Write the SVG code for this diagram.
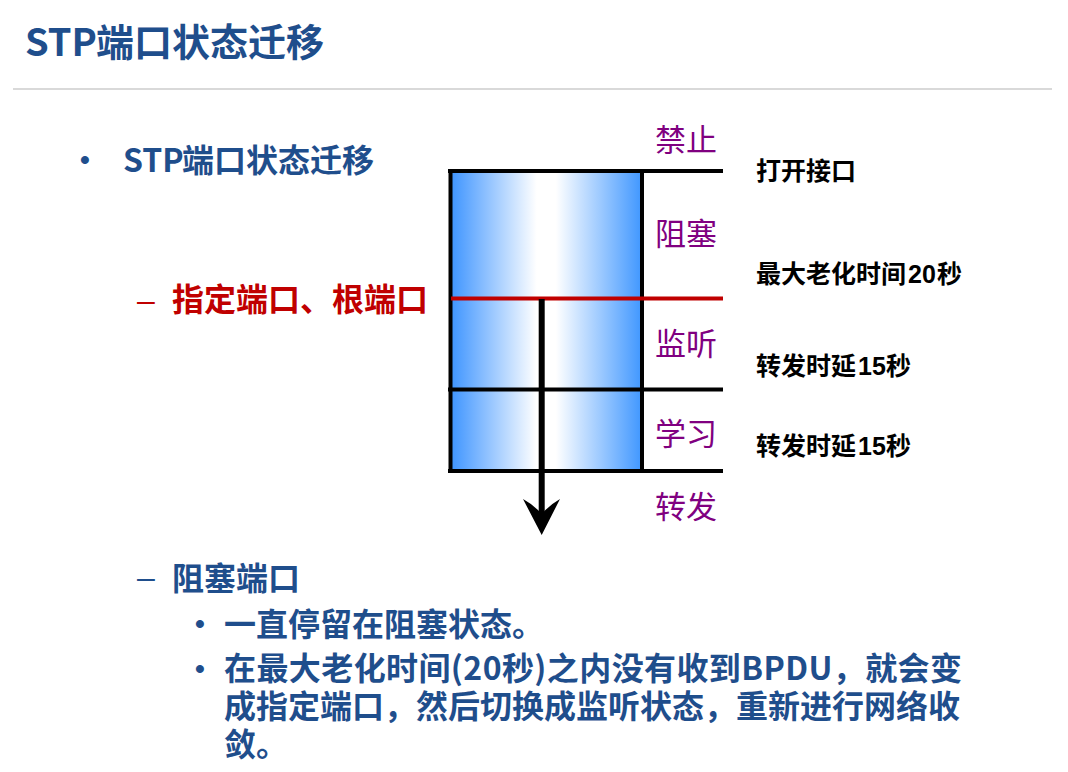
<svg xmlns="http://www.w3.org/2000/svg" width="1068" height="772" viewBox="0 0 1068 772">
  <defs>
    <linearGradient id="boxGrad" x1="0" y1="0" x2="1" y2="0">
      <stop offset="0" stop-color="#3d94ff"/>
      <stop offset="0.45" stop-color="#ffffff"/>
      <stop offset="0.55" stop-color="#ffffff"/>
      <stop offset="1" stop-color="#4097ff"/>
    </linearGradient>
    <style>
      .cjk { font-family: "Noto Sans CJK SC", "Liberation Sans", sans-serif; }
      .blue { fill: #1f4e8c; font-weight: bold; }
      .red { fill: #c00000; font-weight: bold; }
      .state { fill: #800080; font-size: 31px; font-weight: normal; }
      .note { fill: #000000; font-size: 25px; font-weight: bold; }
      .num { font-family: "Liberation Sans", "Noto Sans CJK SC", sans-serif; font-size: 25px; font-weight: bold; }
      .mark { font-family: "Liberation Sans", sans-serif; }
      .bk { stroke: #000000; stroke-width: 4; fill: none; }
    </style>
  </defs>
  <rect width="1068" height="772" fill="#ffffff"/>

  <g id="title">
    <text class="cjk blue" font-size="38" y="56"><tspan x="25">STP</tspan><tspan x="96">端口状态迁移</tspan></text>
    <line x1="13" y1="89" x2="1052" y2="89" stroke="#d9d9d9" stroke-width="2"/>
  </g>

  <g id="bullet-main">
    <text class="mark blue" font-size="28" x="80" y="169">•</text>
    <text class="cjk blue" font-size="32" y="172"><tspan x="123">STP</tspan><tspan x="182">端口状态迁移</tspan></text>
  </g>

  <g id="sub-designated">
    <text class="mark" font-size="32" fill="#c00000" x="137" y="311">–</text>
    <text class="cjk red" font-size="32" x="172" y="311">指定端口、根端口</text>
  </g>

  <g id="state-box">
    <rect x="450.5" y="171" width="191.5" height="300" fill="url(#boxGrad)"/>
    <line class="bk" x1="448" y1="171" x2="723" y2="171"/>
    <line class="bk" x1="448" y1="389.5" x2="723" y2="389.5"/>
    <line class="bk" x1="448" y1="471" x2="723" y2="471"/>
    <line class="bk" x1="450.5" y1="169" x2="450.5" y2="473" stroke-width="4.5"/>
    <line class="bk" x1="642" y1="169" x2="642" y2="473"/>
    <line x1="451" y1="298.5" x2="723" y2="298.5" stroke="#c00000" stroke-width="4"/>
  </g>

  <g id="connectors">
    <line x1="541.7" y1="299" x2="541.7" y2="516" stroke="#000000" stroke-width="6"/>
    <path d="M523,499 Q534,505 541.7,514 Q549.5,505 560,499 L541.7,535 Z" fill="#000000"/>
  </g>

  <g id="state-labels" class="cjk state">
    <text id="s-disabled" x="655" y="151">禁止</text>
    <text id="s-blocking" x="655" y="245">阻塞</text>
    <text id="s-listening" x="655" y="355">监听</text>
    <text id="s-learning" x="655" y="445">学习</text>
    <text id="s-forwarding" x="655" y="518">转发</text>
  </g>

  <g id="transition-notes" class="cjk note">
    <text x="756" y="180">打开接口</text>
    <text y="283"><tspan x="756">最大老化时间</tspan><tspan class="num" x="908">20</tspan><tspan x="937">秒</tspan></text>
    <text y="375"><tspan x="756">转发时延</tspan><tspan class="num" x="858">15</tspan><tspan x="886">秒</tspan></text>
    <text y="455"><tspan x="756">转发时延</tspan><tspan class="num" x="858">15</tspan><tspan x="886">秒</tspan></text>
  </g>

  <g id="sub-blocking">
    <text class="mark" font-size="32" fill="#1f4e8c" x="137" y="588">–</text>
    <text class="cjk blue" font-size="32" x="172" y="590">阻塞端口</text>
    <text class="mark blue" font-size="28" x="195" y="633">•</text>
    <text class="cjk blue" font-size="32" x="224" y="636">一直停留在阻塞状态。</text>
    <text class="mark blue" font-size="28" x="195" y="678">•</text>
    <text class="cjk blue" font-size="32" x="224" y="680" textLength="738" lengthAdjust="spacing">在最大老化时间(20秒)之内没有收到BPDU，就会变</text>
    <text class="cjk blue" font-size="32" x="224" y="718">成指定端口，然后切换成监听状态，重新进行网络收</text>
    <text class="cjk blue" font-size="32" x="224" y="756">敛。</text>
  </g>
</svg>
